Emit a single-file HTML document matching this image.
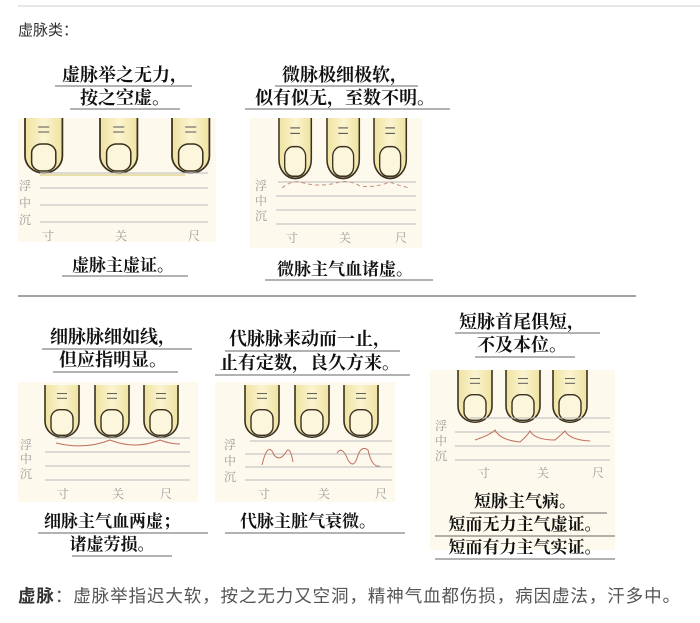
<!DOCTYPE html>
<html><head><meta charset="utf-8"><style>
html,body{margin:0;padding:0;background:#fff;width:700px;height:623px;overflow:hidden}
svg{display:block}
.h{font-family:"Liberation Serif","Noto Serif CJK SC",serif;font-weight:bold;font-size:18px;fill:#111}
.c{font-family:"Liberation Serif","Noto Serif CJK SC",serif;font-weight:bold;font-size:17px;fill:#111}
.l{font-family:"Liberation Serif","Noto Serif CJK SC",serif;font-size:12px;fill:#999}
.u{stroke:#666;stroke-width:1}
.g{stroke:#bbb;stroke-width:1}
</style></head><body>
<svg width="700" height="623" viewBox="0 0 700 623">
<defs>
<linearGradient id="fg" x1="0" x2="1"><stop offset="0" stop-color="#efe2a0"/><stop offset=".5" stop-color="#fbf4d0"/><stop offset="1" stop-color="#efe2a0"/></linearGradient>
<g id="f">
<path d="M0,0 V38 A17,17 0 0 0 34,38 V0" fill="url(#fg)" stroke="#3a3020" stroke-width="1.6"/>
<rect x="6" y="26" width="22" height="27" rx="9" fill="#fbf6dc" stroke="#3a3020" stroke-width="1.4"/>
<line x1="12" y1="9" x2="22" y2="9" stroke="#555" stroke-width="1"/>
<line x1="12" y1="14" x2="22" y2="14" stroke="#555" stroke-width="1"/>
</g>
</defs>
<line x1="18" y1="6" x2="700" y2="6" stroke="#ccc"/>
<text x="18" y="35" font-family="Liberation Sans,Noto Sans CJK SC,sans-serif" font-size="15" fill="#333">虚脉类：</text>

<!-- panel 1 -->
<rect x="18" y="118" width="198" height="124" fill="#fdf9ec"/>
<text class="h" x="125" y="81" text-anchor="middle">虚脉举之无力，</text>
<line class="u" x1="55" y1="86" x2="192" y2="86"/>
<text class="h" x="125" y="104" text-anchor="middle">按之空虚。</text>
<line class="u" x1="70" y1="109" x2="180" y2="109"/>
<use href="#f" transform="translate(25,118) scale(1.1,1)"/>
<use href="#f" transform="translate(100,118) scale(1.1,1)"/>
<use href="#f" transform="translate(172,118) scale(1.1,1)"/>
<line class="g" x1="40" y1="173" x2="208" y2="173"/>
<line x1="40" y1="175" x2="185" y2="175" stroke="#e8e0a8" stroke-width="2"/>
<line class="g" x1="40" y1="188" x2="208" y2="188"/>
<line class="g" x1="40" y1="205" x2="208" y2="205"/>
<line class="g" x1="40" y1="222" x2="208" y2="222"/>
<text class="l" x="19" y="190">浮</text><text class="l" x="19" y="207">中</text><text class="l" x="19" y="224">沉</text>
<text class="l" x="42" y="240">寸</text><text class="l" x="115" y="240">关</text><text class="l" x="188" y="240">尺</text>
<text class="c" x="123" y="271" text-anchor="middle">虚脉主虚证。</text>
<line class="u" x1="62" y1="276" x2="188" y2="276"/>

<!-- panel 2 -->
<rect x="250" y="118" width="172" height="130" fill="#fdf9ec"/>
<text class="h" x="345" y="81" text-anchor="middle">微脉极细极软，</text>
<line class="u" x1="275" y1="86" x2="418" y2="86"/>
<text class="h" x="345" y="104" text-anchor="middle">似有似无，至数不明。</text>
<line class="u" x1="245" y1="109" x2="450" y2="109"/>
<use href="#f" transform="translate(279,118) scale(0.95,1.1)"/>
<use href="#f" transform="translate(327,118) scale(0.95,1.1)"/>
<use href="#f" transform="translate(374,118) scale(0.95,1.1)"/>
<line class="g" x1="278" y1="182" x2="416" y2="182"/>
<path d="M282,188 Q292,180 300,182 Q320,188 340,182 Q350,180 360,186 Q375,188 390,182 Q400,186 410,188" fill="none" stroke="#c8907a" stroke-dasharray="4,3"/>
<line class="g" x1="276" y1="196" x2="416" y2="196"/>
<line class="g" x1="276" y1="210" x2="416" y2="210"/>
<line class="g" x1="276" y1="224" x2="416" y2="224"/>
<text class="l" x="255" y="190">浮</text><text class="l" x="255" y="205">中</text><text class="l" x="255" y="220">沉</text>
<text class="l" x="286" y="242">寸</text><text class="l" x="339" y="242">关</text><text class="l" x="395" y="242">尺</text>
<text class="c" x="345" y="275" text-anchor="middle">微脉主气血诸虚。</text>
<line class="u" x1="265" y1="280" x2="433" y2="280"/>

<line x1="18" y1="296" x2="636" y2="296" stroke="#444"/>

<!-- panel 3 -->
<rect x="18" y="382" width="180" height="120" fill="#fdf9ec"/>
<text class="h" x="113" y="343" text-anchor="middle">细脉脉细如线，</text>
<line class="u" x1="42" y1="349" x2="192" y2="349"/>
<text class="h" x="113" y="366" text-anchor="middle">但应指明显。</text>
<line class="u" x1="53" y1="372" x2="178" y2="372"/>
<use href="#f" transform="translate(45,385) scale(1,0.95)"/>
<use href="#f" transform="translate(95,385) scale(1,0.95)"/>
<use href="#f" transform="translate(144,385) scale(1,0.95)"/>
<line class="g" x1="55" y1="438" x2="190" y2="438"/>
<path d="M56,443 Q85,450 110,440 Q135,450 160,440 Q170,444 180,444" fill="none" stroke="#c07060"/>
<line class="g" x1="45" y1="452" x2="190" y2="452"/>
<line class="g" x1="45" y1="466" x2="190" y2="466"/>
<line class="g" x1="45" y1="480" x2="190" y2="480"/>
<text class="l" x="20" y="449">浮</text><text class="l" x="20" y="463">中</text><text class="l" x="20" y="478">沉</text>
<text class="l" x="57" y="498">寸</text><text class="l" x="112" y="498">关</text><text class="l" x="160" y="498">尺</text>
<text class="c" x="112" y="527" text-anchor="middle">细脉主气血两虚；</text>
<line class="u" x1="38" y1="533" x2="208" y2="533"/>
<text class="c" x="112" y="550" text-anchor="middle">诸虚劳损。</text>
<line class="u" x1="72" y1="556" x2="172" y2="556"/>

<!-- panel 4 -->
<rect x="215" y="382" width="180" height="120" fill="#fdf9ec"/>
<text class="h" x="310" y="345" text-anchor="middle">代脉脉来动而一止，</text>
<line class="u" x1="225" y1="351" x2="400" y2="351"/>
<text class="h" x="310" y="369" text-anchor="middle">止有定数，良久方来。</text>
<line class="u" x1="215" y1="375" x2="410" y2="375"/>
<use href="#f" transform="translate(245,385) scale(1,0.95)"/>
<use href="#f" transform="translate(295,385) scale(1,0.95)"/>
<use href="#f" transform="translate(344,385) scale(1,0.95)"/>
<line class="g" x1="250" y1="441" x2="392" y2="441"/>
<line class="g" x1="245" y1="454" x2="392" y2="454"/>
<path d="M262,465 Q268,440 274,455 Q280,462 286,452 Q290,445 293,462" fill="none" stroke="#c07060"/>
<path d="M337,453 Q342,445 348,460 Q354,470 358,455 Q362,445 368,450 Q372,468 380,466" fill="none" stroke="#c07060"/>
<line class="g" x1="245" y1="467" x2="392" y2="467"/>
<line class="g" x1="245" y1="480" x2="392" y2="480"/>
<text class="l" x="224" y="449">浮</text><text class="l" x="224" y="465">中</text><text class="l" x="224" y="481">沉</text>
<text class="l" x="258" y="498">寸</text><text class="l" x="318" y="498">关</text><text class="l" x="375" y="498">尺</text>
<text class="c" x="308" y="527" text-anchor="middle">代脉主脏气衰微。</text>
<line class="u" x1="225" y1="533" x2="405" y2="533"/>

<!-- panel 5 -->
<rect x="430" y="370" width="185" height="180" fill="#fdf9ec"/>
<text class="h" x="522" y="328" text-anchor="middle">短脉首尾俱短，</text>
<line class="u" x1="455" y1="333" x2="600" y2="333"/>
<text class="h" x="522" y="351" text-anchor="middle">不及本位。</text>
<line class="u" x1="475" y1="357" x2="575" y2="357"/>
<use href="#f" transform="translate(458,370) scale(1,0.95)"/>
<use href="#f" transform="translate(506,370) scale(1,0.95)"/>
<use href="#f" transform="translate(553,370) scale(1,0.95)"/>
<line class="g" x1="470" y1="418" x2="610" y2="418"/>
<line class="g" x1="455" y1="432" x2="610" y2="432"/>
<path d="M475,440 Q490,435 495,430 Q500,440 520,442 Q528,435 530,431 Q535,440 555,440 Q562,434 565,431 Q570,440 590,441" fill="none" stroke="#c07060"/>
<line class="g" x1="455" y1="446" x2="610" y2="446"/>
<line class="g" x1="455" y1="460" x2="610" y2="460"/>
<text class="l" x="435" y="430">浮</text><text class="l" x="435" y="445">中</text><text class="l" x="435" y="460">沉</text>
<text class="l" x="478" y="477">寸</text><text class="l" x="537" y="477">关</text><text class="l" x="592" y="477">尺</text>
<text class="c" x="525" y="507" text-anchor="middle">短脉主气病。</text>
<line class="u" x1="470" y1="513" x2="607" y2="513"/>
<text class="c" x="525" y="530" text-anchor="middle">短而无力主气虚证。</text>
<line class="u" x1="435" y1="536" x2="615" y2="536"/>
<text class="c" x="525" y="553" text-anchor="middle">短而有力主气实证。</text>
<line class="u" x1="435" y1="559" x2="615" y2="559"/>

<text x="18" y="602" font-family="Liberation Sans,Noto Sans CJK SC,sans-serif" font-size="17.5" fill="#555" textLength="662" lengthAdjust="spacing"><tspan font-weight="bold" fill="#333">虚脉</tspan>：虚脉举指迟大软，按之无力又空洞，精神气血都伤损，病因虚法，汗多中。</text>
</svg>
</body></html>
